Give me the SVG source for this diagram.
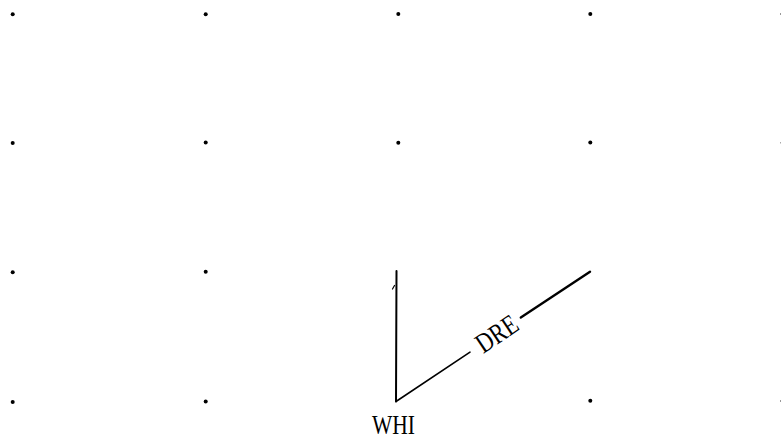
<svg xmlns="http://www.w3.org/2000/svg" width="781" height="440" viewBox="0 0 781 440">
<style>
.dot{fill:#000}
.edge{fill:none;stroke:#000;stroke-linecap:round}
.lbl{font-family:"Liberation Serif","DejaVu Serif",serif;font-size:28px;fill:#000}
</style>
<rect width="781" height="440" fill="#fff"/>
<g id="grid">
<circle class="dot" cx="12.7" cy="14.2" r="2"/><circle class="dot" cx="205.7" cy="14.2" r="2"/><circle class="dot" cx="398.3" cy="14" r="2"/><circle class="dot" cx="590.3" cy="14" r="2"/>
<circle class="dot" cx="12.7" cy="143" r="2"/><circle class="dot" cx="205.7" cy="142.5" r="2"/><circle class="dot" cx="398.3" cy="142.7" r="2"/><circle class="dot" cx="590.3" cy="142.5" r="2"/>
<circle class="dot" cx="12.7" cy="272.3" r="2"/><circle class="dot" cx="205.7" cy="271.7" r="2"/>
<circle class="dot" cx="12.7" cy="402" r="2"/><circle class="dot" cx="205.7" cy="401.5" r="2"/><circle class="dot" cx="590.3" cy="400.8" r="2"/>
<rect x="780" y="13" width="1" height="2" fill="#999"/><rect x="780" y="142" width="1" height="1.5" fill="#aaa"/><rect x="780" y="400" width="1" height="2" fill="#999"/>
</g>
<g id="connectors">
<path class="edge" d="M396.5 271 L396 401.5" stroke-width="2"/>
<path class="edge" d="M392.5 289 L394.5 285.5" stroke-width="1.2"/>
<path class="edge" d="M396 401.5 L470 352.2" stroke-width="1.6" stroke="#222"/>
<path class="edge" d="M520.8 317.5 L590 271.7" stroke-width="2.4"/>
<text class="lbl" x="497" y="343" text-anchor="middle" textLength="45" lengthAdjust="spacingAndGlyphs" transform="rotate(-33.8 497 334)">DRE</text>
</g>
<g id="node-WHI">
<text class="lbl" x="393.5" y="433.5" text-anchor="middle" textLength="43" lengthAdjust="spacingAndGlyphs">WHI</text>
</g>
</svg>
